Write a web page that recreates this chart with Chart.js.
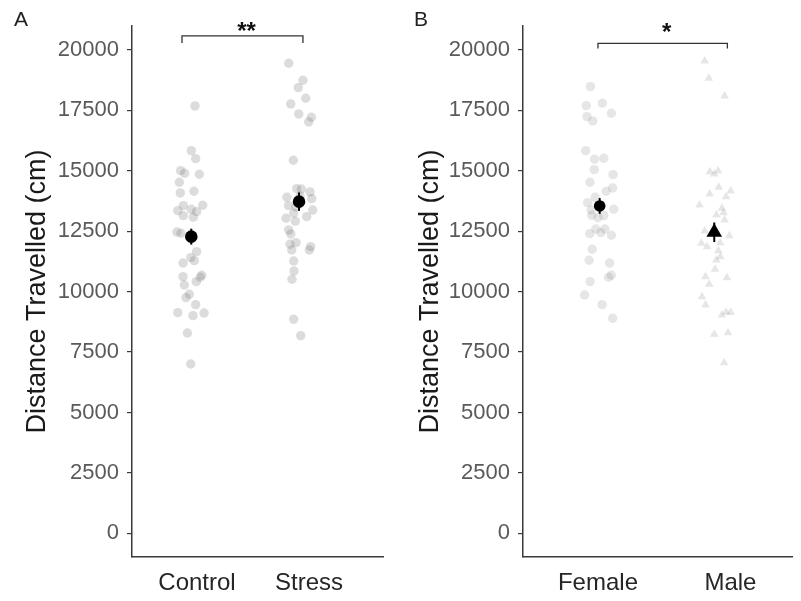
<!DOCTYPE html>
<html>
<head>
<meta charset="utf-8">
<script src="https://cdn.jsdelivr.net/npm/chart.js@4.4.1/dist/chart.umd.min.js"></script>
<style>
  html, body { margin: 0; padding: 0; background: #fff; }
  #wrap { position: relative; width: 801px; height: 601px; }
  #wrap canvas { position: absolute; top: 0; }
</style>
</head>
<body>
<div id="wrap">
  <canvas id="panelA" width="400" height="601" style="left:0px"></canvas>
  <canvas id="panelB" width="401" height="601" style="left:400px"></canvas>
</div>
<script>
// ---- data ----
const groupsA = ['Control', 'Stress'];
const groupsB = ['Female', 'Male'];
const yTickValues = [0, 2500, 5000, 7500, 10000, 12500, 15000, 17500, 20000];

// individual animals, panel A (x = group position with jitter)
const controlX = [0.982, 0.949, 0.988, 0.854, 0.890, 1.021, 0.842, 0.851, 0.973, 0.878, 1.051, 0.828, 0.949, 0.997, 0.878, 0.967, 0.857, 0.821, 0.997, 0.944, 0.976, 0.875, 0.875, 1.042, 1.029, 0.887, 0.994, 0.931, 0.902, 0.988, 0.828, 0.964, 1.063, 0.914, 0.944];
const controlY = [17683, 15833, 15502, 15005, 14898, 14857, 14525, 14083, 14153, 13557, 13574, 13350, 13408, 13309, 13143, 13077, 12415, 12468, 11653, 11405, 11281, 11186, 10619, 10677, 10594, 10275, 10412, 9891, 9750, 9460, 9129, 9005, 9117, 8289, 7006];
const stressX = [1.819, 1.946, 1.904, 1.971, 1.837, 1.908, 2.021, 1.997, 1.860, 1.890, 1.931, 2.009, 1.802, 2.024, 1.817, 2.033, 1.863, 1.979, 1.795, 1.878, 1.819, 1.837, 1.830, 1.884, 1.846, 2.015, 2.003, 1.863, 1.866, 1.848, 1.863, 1.926, 1.920, 1.884];
const stressY = [19450, 18746, 18440, 18002, 17766, 17352, 17215, 17021, 15436, 14261, 14248, 14124, 13905, 13847, 13557, 13379, 13243, 13102, 13036, 12911, 12552, 12386, 11960, 12026, 11724, 11861, 11724, 11269, 10855, 10511, 8856, 8177, 13958, 13503];

// individual animals, panel B
const femaleX = [0.943, 0.912, 1.033, 1.101, 0.917, 0.961, 0.907, 0.974, 1.044, 0.971, 1.114, 0.940, 1.062, 1.111, 0.979, 0.922, 0.948, 1.119, 0.953, 1.044, 1.000, 0.984, 1.052, 0.938, 1.021, 1.101, 0.956, 0.933, 1.088, 1.101, 1.080, 0.940, 0.899, 1.031, 1.111];
const femaleY = [18482, 17695, 17795, 17381, 17240, 17062, 15833, 15477, 15519, 15047, 14840, 14525, 14153, 14290, 13905, 13681, 13379, 13408, 13160, 13143, 13060, 12593, 12593, 12398, 12440, 12332, 11753, 11298, 11186, 10677, 10594, 10412, 9862, 9460, 8897];
const maleX = [1.806, 1.837, 1.956, 1.845, 1.878, 1.907, 1.912, 1.843, 2.002, 1.967, 1.767, 1.936, 1.948, 1.894, 1.956, 1.806, 1.992, 1.781, 1.824, 1.922, 1.909, 1.924, 1.894, 1.884, 1.812, 1.974, 1.840, 1.785, 1.812, 1.936, 1.967, 2.002, 1.878, 1.982, 1.953];
const maleY = [19545, 18829, 18097, 14964, 14869, 14993, 14318, 14041, 14165, 13930, 13586, 13449, 13267, 13172, 12965, 12510, 12316, 12001, 11861, 12026, 11695, 11447, 11310, 10925, 10619, 10577, 10304, 9791, 9448, 9034, 9146, 9146, 8235, 8301, 7060];

// group means and standard errors
const meanAX = [0.949, 1.911];
const meanA = [12274, 13722];
const seA = [330, 380];
const meanBX = [1.013, 1.878];
const meanB = [13545, 12456];
const seB = [325, 405];

// significance brackets
const bracketA = { x1: 0.866, x2: 1.946, y: 20580, tip: 20290, label: '**' };
const bracketB = { x1: 1.000, x2: 1.977, y: 20270, tip: 20062, label: '*' };

// ---- drawing ----
const FONT = "'Liberation Sans', Arial, Helvetica, sans-serif";
const toXY = (xs, ys) => xs.map((x, i) => ({ x: x, y: ys[i] }));

const extrasPlugin = {
  id: 'extras',
  afterDatasetsDraw(chart, args, opts) {
    const { ctx, scales: { x, y } } = chart;
    ctx.save();
    // error bars (mean ± SE)
    ctx.strokeStyle = '#000';
    ctx.lineWidth = 2;
    opts.meanX.forEach((mx, i) => {
      const px = x.getPixelForValue(mx);
      ctx.beginPath();
      ctx.moveTo(px, y.getPixelForValue(opts.mean[i] - opts.se[i]));
      ctx.lineTo(px, y.getPixelForValue(opts.mean[i] + opts.se[i]));
      ctx.stroke();
    });
    ctx.restore();
  },
  afterDraw(chart, args, opts) {
    const { ctx, scales: { x, y } } = chart;
    const b = opts.bracket;
    ctx.save();
    // bracket
    const x1 = x.getPixelForValue(b.x1), x2 = x.getPixelForValue(b.x2);
    const yl = y.getPixelForValue(b.y), yt = y.getPixelForValue(b.tip);
    ctx.strokeStyle = '#333';
    ctx.lineWidth = 1.3;
    ctx.beginPath();
    ctx.moveTo(x1, yt); ctx.lineTo(x1, yl); ctx.lineTo(x2, yl); ctx.lineTo(x2, yt);
    ctx.stroke();
    // stars
    ctx.fillStyle = '#111';
    ctx.font = 'bold 24px ' + FONT;
    ctx.textAlign = 'center';
    ctx.textBaseline = 'alphabetic';
    ctx.fillText(b.label, (x1 + x2) / 2 + opts.starDx, yl + opts.starDy);
    // panel letter
    ctx.fillStyle = '#222';
    ctx.font = '21px ' + FONT;
    ctx.textAlign = 'left';
    ctx.textBaseline = 'alphabetic';
    ctx.fillText(opts.letter, opts.letterX, 26);
    ctx.restore();
  }
};

function makePanel(id, p) {
  return new Chart(document.getElementById(id), {
    type: 'scatter',
    data: {
      datasets: [
        {
          data: toXY(p.meanX, p.mean),
          pointStyle: p.meanStyle,
          pointRadius: p.meanRadius,
          backgroundColor: '#000',
          borderColor: '#000',
          borderWidth: 0,
          order: 0
        },
        {
          data: toXY(p.x1, p.y1),
          pointStyle: p.style1,
          pointRadius: p.r1,
          backgroundColor: p.color,
          borderWidth: 0,
          order: 1
        },
        {
          data: toXY(p.x2, p.y2),
          pointStyle: p.style2,
          pointRadius: p.r2,
          backgroundColor: p.color,
          borderWidth: 0,
          order: 1
        }
      ]
    },
    options: {
      responsive: false,
      animation: false,
      events: [],
      layout: { padding: { top: 26, right: p.padRight, bottom: 0, left: 0 } },
      plugins: {
        legend: { display: false },
        tooltip: { enabled: false },
        extras: {
          meanX: p.meanX, mean: p.mean, se: p.se,
          bracket: p.bracket, letter: p.letter, letterX: p.letterX,
          starDx: p.starDx, starDy: p.starDy
        }
      },
      scales: {
        x: {
          type: 'linear',
          min: p.xmin,
          max: p.xmax,
          afterBuildTicks: s => { s.ticks = [{ value: 1 }, { value: 2 }]; },
          afterFit: s => { s.height = 44; },
          grid: { display: false, drawTicks: false, tickLength: 0 },
          border: { display: true, color: '#3a3a3a', width: 1.5 },
          ticks: {
            padding: 12,
            color: '#262626',
            font: { family: FONT, size: 24 },
            callback: v => p.groups[v - 1]
          }
        },
        y: {
          type: 'linear',
          min: -980,
          max: 20990,
          afterBuildTicks: s => { s.ticks = yTickValues.map(v => ({ value: v })); },
          afterFit: s => { s.width = p.yWidth; },
          grid: { display: true, drawOnChartArea: false, drawTicks: true, tickLength: 5, color: '#3a3a3a', lineWidth: 1.2 },
          border: { display: true, color: '#3a3a3a', width: 1.5 },
          ticks: {
            padding: 8,
            color: '#5a5a5a',
            font: { family: FONT, size: 22 },
            callback: v => String(v)
          },
          title: {
            display: true,
            text: 'Distance Travelled (cm)',
            color: '#1a1a1a',
            font: { family: FONT, size: 27 },
            padding: { top: p.titlePad, bottom: 0 }
          }
        }
      }
    },
    plugins: [extrasPlugin]
  });
}

makePanel('panelA', {
  groups: groupsA,
  xmin: 0.4196, xmax: 2.6607,
  yWidth: 132, padRight: 17, titlePad: 21,
  x1: controlX, y1: controlY, x2: stressX, y2: stressY,
  style1: 'circle', style2: 'circle', r1: 4.7, r2: 4.7,
  color: 'rgba(110,110,110,0.24)',
  meanX: meanAX, mean: meanA, se: seA, meanStyle: 'circle', meanRadius: 6.3,
  bracket: bracketA, letter: 'A', letterX: 14, starDx: 4, starDy: 3
});

makePanel('panelB', {
  groups: groupsB,
  xmin: 0.434, xmax: 2.465,
  yWidth: 123, padRight: 2, titlePad: 14,
  x1: femaleX, y1: femaleY, x2: maleX, y2: maleY,
  style1: 'circle', style2: 'triangle', r1: 4.7, r2: 5.0,
  color: 'rgba(130,130,130,0.2)',
  meanX: meanBX, mean: meanB, se: seB, meanStyle: ['circle', 'triangle'], meanRadius: [5.8, 9],
  bracket: bracketB, letter: 'B', letterX: 14, starDx: 4, starDy: -3
});
</script>
</body>
</html>
